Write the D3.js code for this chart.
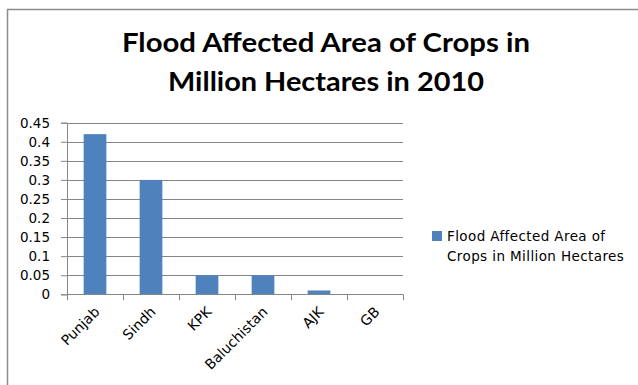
<!DOCTYPE html>
<html>
<head>
    <meta charset="utf-8">
    <title>Flood Affected Area</title>
    <script type="text/javascript" src="https://cdnjs.cloudflare.com/ajax/libs/d3/7.8.5/d3.min.js"></script>
    <style>
        body { margin: 0; background: #fff; }
        text { font-family: "DejaVu Sans", sans-serif; fill: #000; }
        .title { font-family: Lato, "Open Sans", sans-serif; font-weight: bold; }
    </style>
</head>
<body>
<script type="text/javascript">
    // chart data
    var regions = ["Punjab", "Sindh", "KPK", "Baluchistan", "AJK", "GB"];
    var areaValues = [0.42, 0.30, 0.05, 0.05, 0.01, 0];
    var yTicks = [0, 0.05, 0.1, 0.15, 0.2, 0.25, 0.3, 0.35, 0.4, 0.45];
    var titleLines = ["Flood Affected Area of Crops in", "Million Hectares in 2010"];
    var legendLines = ["Flood Affected Area of", "Crops in Million Hectares"];

    var width = 638, height = 385,
        plot = {left: 67, right: 403, top: 122.7, bottom: 294.3};

    var svg = d3.select("body").append("svg")
        .attr("width", width)
        .attr("height", height);

    // outer frame
    svg.append("rect")
        .attr("x", 7.5).attr("y", 9.5)
        .attr("width", 640).attr("height", 400)
        .attr("fill", "#fff")
        .attr("stroke", "#8c8c8c")
        .attr("stroke-width", 1.5);

    var x = d3.scaleBand()
        .domain(regions)
        .range([plot.left, plot.right])
        .paddingInner(0.595)
        .paddingOuter(0.2975);

    var y = d3.scaleLinear()
        .domain([0, 0.45])
        .range([plot.bottom, plot.top]);

    // gridlines
    svg.append("g")
        .selectAll("line")
        .data(yTicks.slice(1))
        .enter().append("line")
        .attr("x1", plot.left).attr("x2", plot.right)
        .attr("y1", function (d) { return Math.round(y(d)) + 0.5; })
        .attr("y2", function (d) { return Math.round(y(d)) + 0.5; })
        .attr("stroke", "#868686");

    // y axis
    var yAxis = d3.axisLeft(y)
        .tickValues(yTicks)
        .tickFormat(function (d) { return d3.format("")(+d.toFixed(2)); })
        .tickSize(6)
        .tickPadding(11);

    var yG = svg.append("g")
        .attr("transform", "translate(" + plot.left + ",0)")
        .call(yAxis);
    yG.selectAll("line, path").attr("stroke", "#868686");
    yG.selectAll("text").style("font-size", "13.5px").style("font-family", "DejaVu Sans").attr("fill", "#000");

    // bars
    svg.append("g")
        .selectAll("rect")
        .data(areaValues)
        .enter().append("rect")
        .attr("x", function (d, i) { return x(regions[i]); })
        .attr("width", x.bandwidth())
        .attr("y", function (d) { return y(d); })
        .attr("height", function (d) { return y(0) - y(d); })
        .attr("fill", "#4f81bd");

    // x axis with ticks at category boundaries
    var step = x.step(), x0 = plot.left;
    var xG = svg.append("g");
    xG.append("line")
        .attr("x1", plot.left).attr("x2", plot.right)
        .attr("y1", Math.round(y(0)) + 0.5).attr("y2", Math.round(y(0)) + 0.5)
        .attr("stroke", "#868686");
    xG.selectAll("line.tick")
        .data(d3.range(regions.length + 1))
        .enter().append("line")
        .attr("class", "tick")
        .attr("x1", function (i) { return Math.round(x0 + i * step) + 0.5; })
        .attr("x2", function (i) { return Math.round(x0 + i * step) + 0.5; })
        .attr("y1", y(0)).attr("y2", y(0) + 6)
        .attr("stroke", "#868686");

    xG.selectAll("text")
        .data(regions)
        .enter().append("text")
        .attr("transform", function (d) {
            return "translate(" + (x(d) + x.bandwidth() / 2 + 2) + "," + (y(0) + 15) + ") rotate(-45)";
        })
        .attr("text-anchor", "end")
        .attr("dy", "0.35em")
        .style("font-size", "14px")
        .text(function (d) { return d; });

    // title
    var titleWidths = [408, 316];
    svg.append("g")
        .selectAll("text")
        .data(titleLines)
        .enter().append("text")
        .attr("class", "title")
        .attr("x", 326)
        .attr("y", function (d, i) { return 52 + i * 39; })
        .attr("text-anchor", "middle")
        .attr("textLength", function (d, i) { return titleWidths[i]; })
        .attr("lengthAdjust", "spacingAndGlyphs")
        .style("font-size", "27px")
        .text(function (d) { return d; });

    // legend
    var legend = svg.append("g");
    legend.append("rect")
        .attr("x", 432).attr("y", 231)
        .attr("width", 10).attr("height", 10)
        .attr("fill", "#4f81bd");
    legend.selectAll("text")
        .data(legendLines)
        .enter().append("text")
        .attr("x", 447)
        .attr("y", function (d, i) { return 241 + i * 20; })
        .style("font-size", "13.5px")
        .style("letter-spacing", "0.4px")
        .text(function (d) { return d; });
</script>
</body>
</html>
